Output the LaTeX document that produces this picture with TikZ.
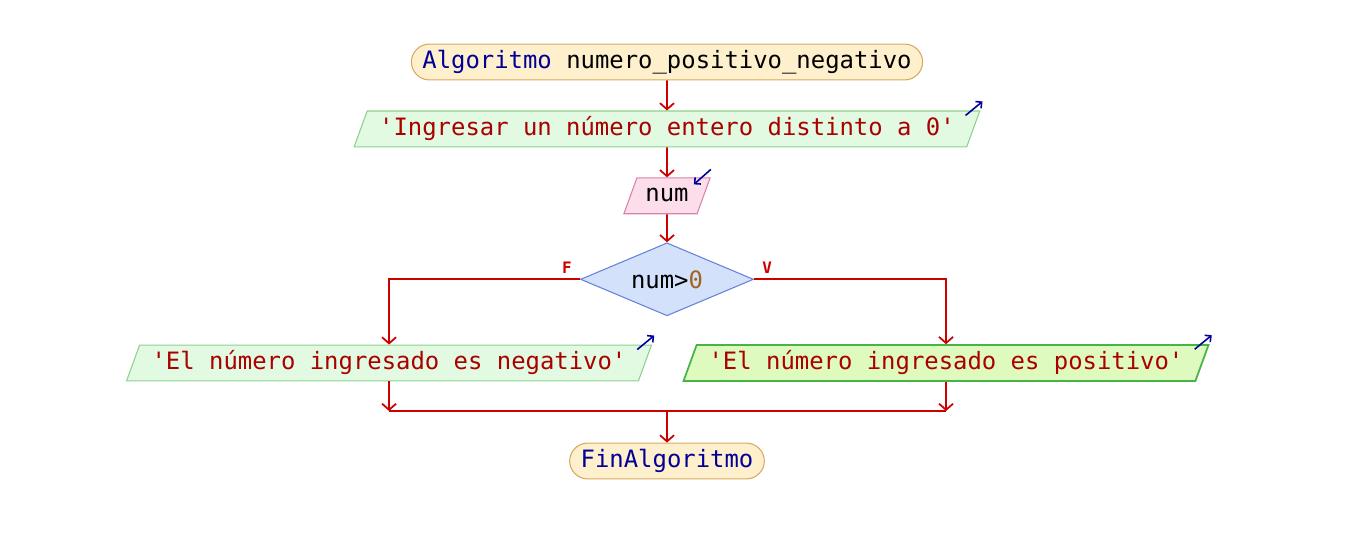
\documentclass[tikz,border=0pt]{standalone}
\usepackage{fontspec}
\newfontfamily\codefont{DejaVu Sans Mono}
\usepackage{tikz}
\usetikzlibrary{arrows.meta,shapes.geometric,positioning,calc}
\usepackage{xcolor}
\definecolor{pfkey}{RGB}{0,0,150}
\definecolor{pfstr}{RGB}{170,0,0}
\definecolor{pfnum}{RGB}{160,100,30}
\definecolor{pfarrow}{RGB}{205,0,0}
\definecolor{pftermfill}{RGB}{254,240,205}
\definecolor{pftermdraw}{RGB}{215,170,95}
\definecolor{pfoutfill}{RGB}{225,250,225}
\definecolor{pfoutdraw}{RGB}{140,210,140}
\definecolor{pfselfill}{RGB}{222,250,190}
\definecolor{pfseldraw}{RGB}{70,180,70}
\definecolor{pfinfill}{RGB}{252,222,235}
\definecolor{pfindraw}{RGB}{215,130,170}
\definecolor{pfcondfill}{RGB}{212,225,250}
\definecolor{pfconddraw}{RGB}{100,130,220}
\definecolor{pfmark}{RGB}{0,0,160}
\newcommand{\flowfont}{\codefont\fontsize{13.6pt}{16pt}\selectfont}
\tikzstyle{flow} = [line width=1pt,-{Straight Barb[length=3.5pt,width=8pt]},color=pfarrow]
\tikzstyle{flowline} = [line width=1pt,color=pfarrow]
\tikzstyle{terminal} = [rectangle, rounded corners=0.36cm, draw=pftermdraw, fill=pftermfill, line width=0.6pt, text height=10pt, text depth=3pt, inner xsep=0.22cm, inner ysep=3.7pt, font=\flowfont]
\tikzstyle{outbox} = [trapezium, trapezium left angle=70, trapezium right angle=110, trapezium stretches=true, draw=pfoutdraw, fill=pfoutfill, line width=0.6pt, text height=10pt, text depth=3pt, inner xsep=0.24cm, inner ysep=3.7pt, font=\flowfont, text=pfstr]
\tikzstyle{inbox} = [outbox, draw=pfindraw, fill=pfinfill, text=black, inner xsep=0.17cm]
\tikzstyle{decision} = [diamond, aspect=2.37, minimum width=3.46cm, minimum height=1.46cm, inner sep=0pt, draw=pfconddraw, fill=pfcondfill, line width=0.6pt, font=\flowfont]
\tikzstyle{outmark} = [line width=0.9pt,-{Straight Barb[length=2.5pt,width=5pt]},color=pfmark]
\tikzstyle{branch} = [font=\codefont\bfseries\fontsize{9pt}{10pt}\selectfont, text=pfarrow, inner sep=0pt]

\begin{document}
\begin{tikzpicture}
\useasboundingbox (0,0) rectangle (27.08,-10.64);
% Main column
\node[terminal] (start) at (13.34,-1.24) {\textcolor{pfkey}{Algoritmo} numero\_positivo\_negativo};
\node[outbox, below=0.6cm of start] (out1) {\textquotesingle Ingresar un número entero distinto a 0\textquotesingle};
\node[inbox, below=0.6cm of out1] (num) {num};
\node[decision, below=0.56cm of num] (cond) {num>\textcolor{pfnum}{0}};

% Branches
\node[outbox] (neg) at (7.78,-7.26) {\textquotesingle El número ingresado es negativo\textquotesingle};
\node[outbox, fill=pfselfill, draw=pfseldraw, line width=1pt] (pos) at (18.92,-7.26) {\textquotesingle El número ingresado es positivo\textquotesingle};
\node[branch] (lblf) at ([shift={(-0.26,0.24)}]cond.west) {F};
\node[branch] (lblv) at ([shift={(0.26,0.24)}]cond.east) {V};

% End
\coordinate (join) at (13.34,-8.22);
\node[terminal] (fin) at (13.34,-9.22) {\textcolor{pfkey}{FinAlgoritmo}};

% Arrows
\draw[flow] (start) -- (out1);
\draw[flow] (out1) -- (num);
\draw[flow] (num) -- (cond);
\draw[flow] (cond.west) -| (neg.north);
\draw[flow] (cond.east) -| (pos.north);
\draw[flow] (neg.south) -- (neg.south |- join);
\draw[flow] (pos.south) -- (pos.south |- join);
\draw[flowline] (neg.south |- join) -- (pos.south |- join);
\draw[flow] (join) -- (fin);

% Output / input marks
\draw[outmark] ([shift={(-0.3,-0.1)}]out1.top right corner) -- ++(0.34,0.28);
\draw[outmark] ([shift={(-0.3,-0.1)}]neg.top right corner) -- ++(0.34,0.28);
\draw[outmark] ([shift={(-0.3,-0.1)}]pos.top right corner) -- ++(0.34,0.28);
\draw[outmark] ([yshift=0.16cm]num.top right corner) -- ++(-0.34,-0.3);
\end{tikzpicture}
\end{document}
